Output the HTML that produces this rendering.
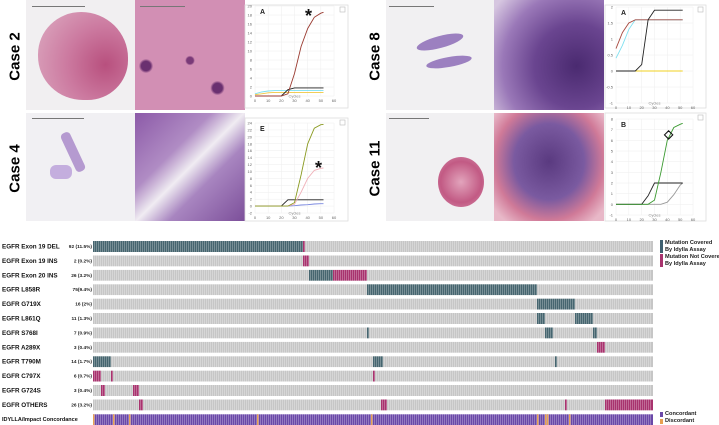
<!DOCTYPE html>
<html><head><meta charset="utf-8">
<style>
body{margin:0;width:719px;height:425px;background:#fff;overflow:hidden;font-family:"Liberation Sans",sans-serif;position:relative}
.abs{position:absolute}
.case{position:absolute;font-weight:bold;font-size:15px;transform:rotate(-90deg);transform-origin:center;white-space:nowrap;width:80px;text-align:center}
.img{position:absolute;overflow:hidden}
.leg{position:absolute;font-size:5.6px;font-weight:bold;line-height:7px;color:#222;white-space:nowrap}
</style></head><body>
<div class="case" style="left:-25px;top:48px">Case 2</div>
<div class="case" style="left:-25px;top:160px">Case 4</div>
<div class="case" style="left:335px;top:48px">Case 8</div>
<div class="case" style="left:335px;top:160px">Case 11</div>

<div class="img" style="left:26px;top:0;width:109px;height:110px;background:#f1eff1">
 <div class="abs" style="left:6px;top:6px;width:53px;height:1px;background:#777"></div>
 <div class="abs" style="left:12px;top:12px;width:90px;height:88px;border-radius:48% 52% 45% 50%;background:radial-gradient(circle at 75% 60%,#b8507e,#cc7aa0 45%,#d79ab6 80%)"></div>
</div>
<div class="img" style="left:135px;top:0;width:110px;height:110px;background:radial-gradient(circle at 50% 55%,#7a3a78 0 4%,transparent 6%),radial-gradient(circle at 10% 60%,#6a3070 0 4%,transparent 6%),radial-gradient(circle at 75% 80%,#6a3070 0 4%,transparent 6%),#d28fb4">
 <div class="abs" style="left:5px;top:6px;width:45px;height:1px;background:#777"></div></div>
<div class="img" style="left:26px;top:113px;width:109px;height:108px;background:#f1f0f3">
 <div class="abs" style="left:6px;top:5px;width:52px;height:1px;background:#777"></div>
 <div class="abs" style="left:42px;top:18px;width:10px;height:42px;background:#b59ad0;transform:rotate(-25deg);border-radius:4px"></div>
 <div class="abs" style="left:24px;top:52px;width:22px;height:14px;background:#c4aede;border-radius:6px"></div></div>
<div class="img" style="left:135px;top:113px;width:110px;height:108px;background:linear-gradient(135deg,#8c5aa8 0%,#b08cc4 35%,#f0ecf2 50%,#a885c0 65%,#7c4f9a 100%)"></div>
<div class="img" style="left:386px;top:0;width:108px;height:110px;background:#f1f0f2">
 <div class="abs" style="left:3px;top:6px;width:45px;height:1px;background:#777"></div>
 <div class="abs" style="left:30px;top:36px;width:48px;height:12px;background:#9c80c0;border-radius:50%;transform:rotate(-15deg)"></div>
 <div class="abs" style="left:40px;top:57px;width:46px;height:10px;background:#9c80c0;border-radius:50%;transform:rotate(-10deg)"></div></div>
<div class="img" style="left:494px;top:0;width:110px;height:110px;background:radial-gradient(circle at 75% 60%,#4a2a70,#6a4590 40%,#9a78b8 70%,#d6c6e0 95%)"></div>
<div class="img" style="left:386px;top:113px;width:108px;height:108px;background:#f1f0f2">
 <div class="abs" style="left:3px;top:5px;width:40px;height:1px;background:#777"></div>
 <div class="abs" style="left:52px;top:44px;width:46px;height:50px;border-radius:50%;background:radial-gradient(circle,#e2a4bc,#c25a84 60%,#d690ae)"></div></div>
<div class="img" style="left:494px;top:113px;width:110px;height:108px;background:radial-gradient(ellipse at 50% 45%,#5a3a80 0%,#7a5aa0 45%,#d07a98 70%,#e8b8c8 90%)"></div>

<svg id="charts" class="abs" style="left:0;top:0" width="719" height="230"></svg>

<svg id="onco" class="abs" style="left:0;top:230px" width="719" height="195"></svg>

<div class="abs" style="left:660px;top:240px;width:3px;height:13px;background:#3f6070"></div>
<div class="leg" style="left:665px;top:240px">Mutation Covered<br>By Idylla Assay</div>
<div class="abs" style="left:660px;top:254px;width:3px;height:13px;background:#a8336e"></div>
<div class="leg" style="left:665px;top:254px">Mutation Not Covered<br>By Idylla Assay</div>
<div class="abs" style="left:660px;top:412px;width:3px;height:5px;background:#6a48a8"></div>
<div class="leg" style="left:665px;top:411px">Concordant</div>
<div class="abs" style="left:660px;top:419px;width:3px;height:5px;background:#e8a050"></div>
<div class="leg" style="left:665px;top:418px">Discordant</div>

<script>
// ---------- PCR chart data ----------
const cycles = [0,5,10,15,20,25,30,35,40,45,50,52];
const c2Red   = [0,0,0,0,0,0.5,5,11,15,17.5,18.4,18.6];
const c2Black = [0,0,0,0,0,1.4,1.8,1.8,1.8,1.8,1.8,1.8];
const c2Cyan  = [0.5,0.9,1.1,1.2,1.2,1.2,1.2,1.2,1.2,1.2,1.2,1.2];
const c2Yel   = [0.3,0.5,0.7,0.8,0.8,0.8,0.8,0.8,0.8,0.8,0.8,0.8];
const c4Olive = [0,0,0,0,0,0,1,9,18,22.5,23.5,23.6];
const c4Pink  = [0,0,0,0,0,0,0.5,4,8,10.3,10.9,11];
const c4Black = [0,0,0,0,0,1.8,1.8,1.8,1.8,1.8,1.8,1.8];
const c4Blue  = [0,0,0,0,0,0,0.1,0.3,0.4,0.6,0.7,0.7];
const c8Red   = [0.7,1.2,1.5,1.6,1.6,1.6,1.6,1.6,1.6,1.6,1.6,1.6];
const c8Cyan  = [0.4,0.8,1.3,1.6,1.6,1.6,1.6,1.6,1.6,1.6,1.6,1.6];
const c8Black = [0,0,0,0,0.2,1.6,1.9,1.9,1.9,1.9,1.9,1.9];
const c8Yel   = [0,0,0,0,0,0,0,0,0,0,0,0];
const c11Green= [0,0,0,0,0,0,0.4,3,6,7.2,7.5,7.6];
const c11Black= [0,0,0,0,0,0.8,2,2,2,2,2,2];
const c11Gray = [0,0,0,0,0,0,0,0,0.2,0.9,1.8,2];
const c2Ticks = [0,2,4,6,8,10,12,14,16,18,20];
const c4Ticks = [-2,0,2,4,6,8,10,12,14,16,18,20,22,24];
const c8Ticks = [-1,-0.5,0,0.5,1,1.5,2];
const c11Ticks= [-1,0,1,2,3,4,5,6,7,8];
const xTicks  = [0,10,20,30,40,50,60];

const NS='http://www.w3.org/2000/svg';
const cs=document.getElementById('charts');
function mk(tag,attrs,parent){const e=document.createElementNS(NS,tag);for(const k in attrs)e.setAttribute(k,attrs[k]);parent.appendChild(e);return e;}
function chart(box,name,letter,ymin,ymax,yticks,series,mark){
  const g=mk('g',{},cs);
  
  
  mk('rect',{x:box.px,y:box.py,width:box.pw,height:box.ph,fill:'#fff',stroke:'#ddd','stroke-width':0.8},g);
  const X=v=>box.x0+(v/60)*(box.x1-box.x0);
  const Y=v=>box.y1-(v-ymin)/(ymax-ymin)*(box.y1-box.y0);
  yticks.forEach(t=>{
    mk('line',{x1:X(0),x2:X(60),y1:Y(t),y2:Y(t),stroke:'#eee','stroke-width':0.5},g);
    const tx=mk('text',{x:X(0)-3,y:Y(t)+1.5,'font-size':4,'text-anchor':'end',fill:'#666'},g);tx.textContent=t;
  });
  xTicks.forEach(t=>{
    mk('line',{x1:X(t),x2:X(t),y1:Y(ymax),y2:Y(ymin),stroke:'#eee','stroke-width':0.5},g);
    const tx=mk('text',{x:X(t),y:Y(ymin)+6,'font-size':4,'text-anchor':'middle',fill:'#666'},g);tx.textContent=t;
  });
  const cy=mk('text',{x:X(30),y:Y(ymin)+1.5,'font-size':4,'text-anchor':'middle',fill:'#888'},g);cy.textContent='Cycles';
  const lt=mk('text',{x:box.x0+5,y:box.y0+8,'font-size':7,'font-weight':'bold',fill:'#222'},g);lt.textContent=letter;
  mk('rect',{x:box.px+box.pw-8,y:box.py+2,width:5,height:5,fill:'none',stroke:'#bbb','stroke-width':0.6},g);
  series.forEach(([vals,col,nm])=>{
    const d=vals.map((v,i)=>(i?'L':'M')+X(cycles[i]).toFixed(1)+' '+Y(v).toFixed(1)).join(' ');
    const p=mk('path',{d:d,fill:'none',stroke:col,'stroke-width':0.9},g);
    
    
  });
  if(mark){const m=mk('text',{x:mark[0],y:mark[1],'font-size':mark[3],'font-weight':'bold',fill:'#111'},g);m.textContent=mark[2];}
}
chart({px:245,py:5,pw:103,ph:103,x0:255,x1:334,y0:6,y1:96},'case-2-chart','A',0,20,c2Ticks,
  [[c2Cyan,'#7ee0f0','cyan-curve'],[c2Yel,'#f0c840','yellow-curve'],[c2Black,'#222','black-curve'],[c2Red,'#9a3a30','red-curve']],[305,22,'*',18]);
chart({px:245,py:118,pw:103,ph:103,x0:255,x1:334,y0:123,y1:213},'case-4-chart','E',-2,24,c4Ticks,
  [[c4Blue,'#7a88e0','blue-curve'],[c4Black,'#222','black-curve'],[c4Pink,'#f0b0b8','pink-curve'],[c4Olive,'#8a9a20','olive-curve']],[315,174,'*',18]);
chart({px:605,py:5,pw:101,ph:103,x0:616,x1:693,y0:7,y1:103},'case-8-chart','A',-1,2,c8Ticks,
  [[c8Yel,'#f0d020','yellow-curve'],[c8Cyan,'#80e0f0','cyan-curve'],[c8Red,'#a84a40','red-curve'],[c8Black,'#222','black-curve']],null);
chart({px:605,py:113,pw:101,ph:108,x0:616,x1:693,y0:119,y1:215},'case-11-chart','B',-1,8,c11Ticks,
  [[c11Gray,'#999','gray-curve'],[c11Black,'#222','black-curve'],[c11Green,'#3a9a30','green-curve']],[664,138,'\u25C7',12]);

// ---------- Oncoprint data ----------
const rowNames = ['EGFR Exon 19 DEL','EGFR Exon 19 INS','EGFR Exon 20 INS','EGFR L858R','EGFR G719X','EGFR L861Q','EGFR S768I','EGFR A289X','EGFR T790M','EGFR C797X','EGFR G724S','EGFR OTHERS'];
const rowCounts = ['92 (11.5%)','2 (0.2%)','26 (3.2%)','75(9.4%)','16 (2%)','11 (1.3%)','7 (0.9%)','3 (0.4%)','14 (1.7%)','6 (0.7%)','3 (0.4%)','26 (3.2%)'];
const coveredRanges = [[[0,104]],[],[[108,119]],[[137,221]],[[222,240]],[[222,225],[241,249]],[[137,137],[226,229],[250,251]],[],[[0,8],[140,144],[231,231]],[],[],[]];
const notCoveredRanges = [[[105,105]],[[105,107]],[[120,136]],[],[],[],[],[[252,255]],[],[[0,3],[9,9],[140,140]],[[4,5],[20,22]],[[23,24],[144,146],[236,236],[256,279]]];
const discordantCols = [0,10,18,82,139,222,226,227,238];
const nCols = 280;

const on=document.getElementById('onco');
const ox=93, ow=560, cw=ow/nCols, rowY0=11, rowStep=14.4, rh=11;
rowNames.forEach((nm,r)=>{
  const y=rowY0+r*rowStep;
  const g=mk('g',{},on);
  
  
  const t=mk('text',{x:2,y:y+7.5,'font-size':6.3,'font-weight':'bold',fill:'#111'},g);t.textContent=nm;
  const c=mk('text',{x:ox-1,y:y+7,'font-size':4.8,'font-weight':'bold','text-anchor':'end',fill:'#222'},g);c.textContent=rowCounts[r];
  mk('rect',{x:ox,y:y,width:ow,height:rh,fill:'#c6c6c6'},g);
  coveredRanges[r].forEach(([a,b])=>{
    const rc=mk('rect',{x:ox+a*cw,y:y,width:(b-a+1)*cw,height:rh,fill:'#46656f'},g);
    
    
  });
  notCoveredRanges[r].forEach(([a,b])=>{
    const rc=mk('rect',{x:ox+a*cw,y:y,width:(b-a+1)*cw,height:rh,fill:'#a8336e'},g);
    
    
  });
});
const cyv=rowY0+12*rowStep+0.5;
const cg=mk('g',{},on);


const ct=mk('text',{x:2,y:cyv+6.5,'font-size':5.5,'font-weight':'bold',fill:'#111'},cg);ct.textContent='IDYLLA/Impact Concordance';
mk('rect',{x:ox,y:cyv,width:ow,height:rh,fill:'#6a48a8'},cg);
discordantCols.forEach(c=>{
  const rc=mk('rect',{x:ox+c*cw,y:cyv,width:cw*0.7,height:rh,fill:'#e8a050'},cg);
  
  
});
let d='';
for(let i=1;i<nCols;i++){const x=(ox+i*cw-0.25).toFixed(2);d+='M'+x+' '+rowY0+'V'+(cyv+rh);}
mk('path',{d:d,stroke:'#fff','stroke-width':0.5,'stroke-opacity':0.55},on);
for(let r=0;r<12;r++){mk('rect',{x:ox,y:rowY0+r*rowStep+rh,width:ow,height:rowStep-rh,fill:'#fff'},on);}
</script>
</body></html>
